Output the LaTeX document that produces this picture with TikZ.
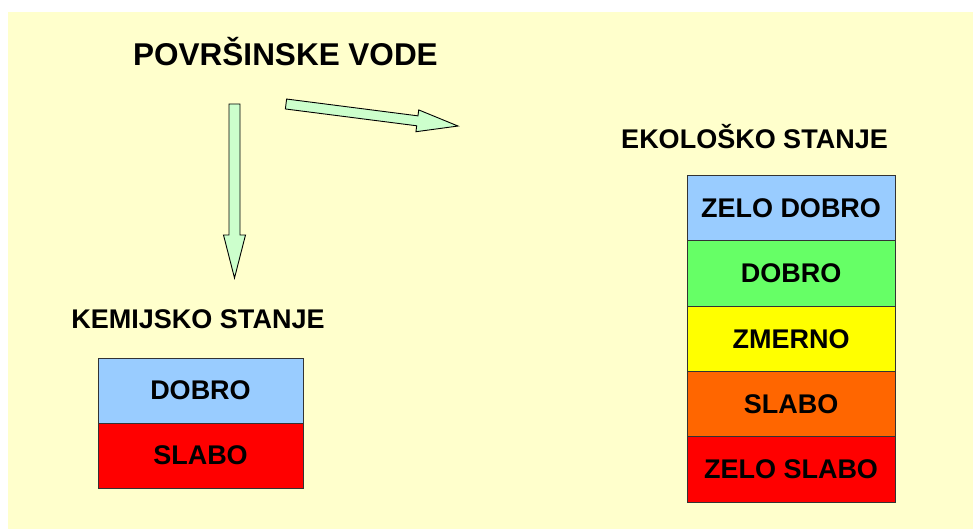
\documentclass[tikz,border=0pt]{standalone}
\usepackage{fontspec}
\setmainfont{Liberation Sans}
\definecolor{bgyellow}{HTML}{FFFFCC}
\definecolor{arrowgreen}{HTML}{CCFFCC}
\definecolor{cblue}{HTML}{99CCFF}
\definecolor{cgreen}{HTML}{66FF66}
\definecolor{cyellow}{HTML}{FFFF00}
\definecolor{corange}{HTML}{FF6600}
\definecolor{cred}{HTML}{FF0000}
\definecolor{edgegray}{HTML}{333333}
\tikzset{
  heading/.style={font=\fontsize{27}{27}\selectfont\bfseries, inner sep=0pt},
  leftcell/.style={draw=edgegray, line width=1pt, minimum width=205pt, minimum height=65pt, inner sep=0pt, font=\fontsize{27}{27}\selectfont\bfseries},
  rightcell/.style={draw=edgegray, line width=1pt, minimum width=208pt, minimum height=65.4pt, inner sep=0pt, font=\fontsize{27}{27}\selectfont\bfseries},
  fatarrow/.style={draw=black, line width=0.9pt, fill=arrowgreen, line join=miter}
}
\begin{document}
\begin{tikzpicture}[x=1pt,y=-1pt]
\useasboundingbox (0,0) rectangle (973,529);
\fill[bgyellow] (8,12) rectangle (973,529);
% title and headings
\node[font=\fontsize{31.5}{31.5}\selectfont\bfseries, inner sep=0pt] (title) at (285.5,52) {POVRŠINSKE VODE};
\node[heading] (kem) at (198,319) {KEMIJSKO STANJE};
\node[heading] (eko) at (754.5,137) {EKOLOŠKO STANJE};
% left table
\node[leftcell, fill=cblue] (kdobro) at (200.5,390.5) {DOBRO};
\node[leftcell, fill=cred] (kslabo) at (200.5,455.5) {SLABO};
% right table
\node[rightcell, fill=cblue] (ezelodobro) at (791,208) {ZELO DOBRO};
\node[rightcell, fill=cgreen] (edobro) at (791,273.4) {DOBRO};
\node[rightcell, fill=cyellow] (ezmerno) at (791,338.8) {ZMERNO};
\node[rightcell, fill=corange] (eslabo) at (791,404.2) {SLABO};
\node[rightcell, fill=cred] (ezeloslabo) at (791,469.6) {ZELO SLABO};
% down arrow
\draw[fatarrow] (229,104) -- (240,104) -- (240,235) -- (245.5,235) -- (234.5,278) -- (223.5,235) -- (229,235) -- cycle;
% right arrow
\begin{scope}[shift={(286,104)}, rotate=-7.3]
\draw[fatarrow] (0,-5) -- (132.4,-5) -- (132.4,-11) -- (173.4,0) -- (132.4,11) -- (132.4,5) -- (0,5) -- cycle;
\end{scope}
\end{tikzpicture}
\end{document}
